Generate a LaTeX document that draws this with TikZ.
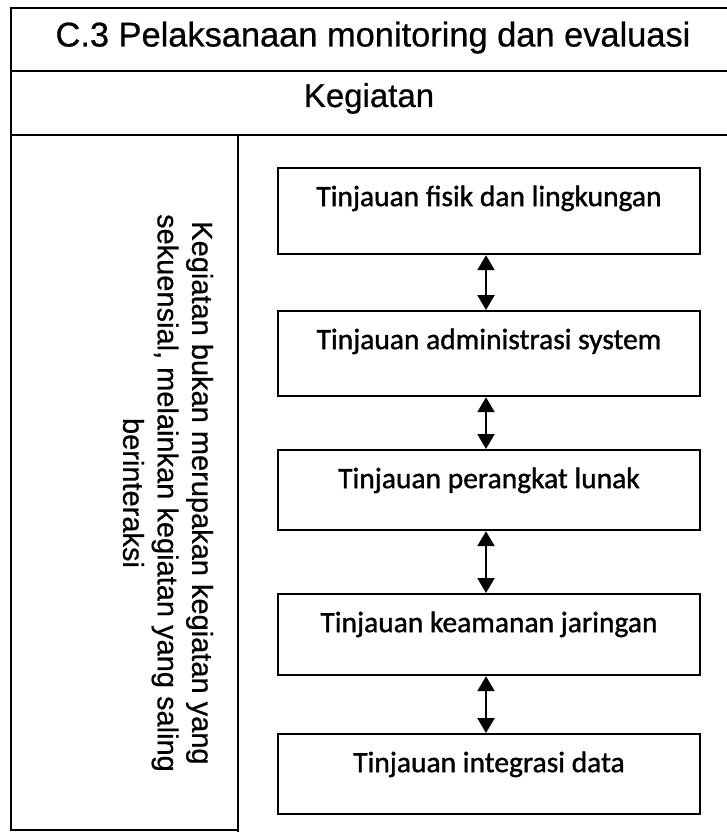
\documentclass[tikz,border=0pt]{standalone}
\usepackage{fontspec}
\setmainfont[FakeBold=0.6]{Liberation Sans}
\newfontfamily\boxfont[FakeBold=1.2]{Carlito}
\usetikzlibrary{arrows.meta}
\begin{document}
\begin{tikzpicture}[x=1pt,y=-1pt,
  frame/.style={line width=2.2pt, line cap=rect},
  heading/.style={anchor=base, inner sep=0pt},
  stage/.style={draw, line width=2.2pt, anchor=north, minimum width=422pt,
    inner sep=0pt, text height=38pt,
    font=\boxfont\fontsize{29.5}{32}\selectfont},
  link/.style={line width=2.2pt,
    {Triangle[width=17pt,length=15pt]}-{Triangle[width=17pt,length=15pt]}}
]
\useasboundingbox (0,0) rectangle (727,832);

% table frame
\draw[frame] (11,8) -- (730,8);
\draw[frame] (11,71) -- (730,71);
\draw[frame] (11,135) -- (730,135);
\draw[frame] (11,8) -- (11,830) -- (238,830);
\draw[frame] (238,135) -- (238,834);

% header rows
\node[heading, font=\fontsize{34.4}{40}\selectfont] (title) at (373,46.5)
  {C.3 Pelaksanaan monitoring dan evaluasi};
\node[heading, font=\fontsize{33}{38}\selectfont] (kegiatan) at (369,107)
  {Kegiatan};

% side note
\node[rotate=-90, inner sep=0pt, align=center,
      font=\fontsize{29}{34.5}\selectfont] (note) at (168,493)
  {Kegiatan bukan merupakan kegiatan yang\\
   sekuensial, melainkan kegiatan yang saling\\
   berinteraksi};

% activities
\node[stage, text depth=48pt] (s1) at (489,167) {Tinjauan fisik dan lingkungan};
\node[stage, text depth=47pt] (s2) at (489,310) {Tinjauan administrasi system};
\node[stage, text depth=42pt] (s3) at (489,449) {Tinjauan perangkat lunak};
\node[stage, text depth=43pt] (s4) at (489,593) {Tinjauan keamanan jaringan};
\node[stage, text depth=42pt] (s5) at (489,733) {Tinjauan integrasi data};

% interactions
\draw[link] ([xshift=-3pt]s1.south) -- ([xshift=-3pt]s2.north);
\draw[link] ([xshift=-3pt]s2.south) -- ([xshift=-3pt]s3.north);
\draw[link] ([xshift=-3pt]s3.south) -- ([xshift=-3pt]s4.north);
\draw[link] ([xshift=-3pt]s4.south) -- ([xshift=-3pt]s5.north);
\end{tikzpicture}
\end{document}
